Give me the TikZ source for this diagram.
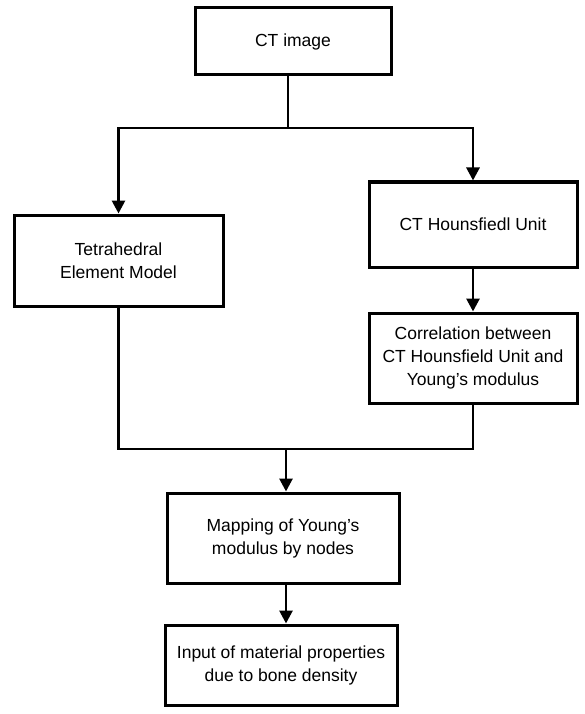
\documentclass[tikz,border=0pt]{standalone}
\usepackage{fontspec}
\setmainfont{Liberation Sans}
\usetikzlibrary{arrows.meta}
\begin{document}
\begin{tikzpicture}[x=1pt,y=-1pt,
  box/.style={draw, line width=3pt, align=center, inner sep=0pt, font=\fontsize{17.5}{23}\selectfont},
  conn/.style={line width=2.8pt},
  arr/.style={conn, -{Triangle[length=13pt,width=13pt]}}]
\useasboundingbox (0,0) rectangle (585,714);
\node[box, minimum width=196pt, minimum height=67pt] (ct) at (293,41.5) {CT image};
\node[box, minimum width=209pt, minimum height=91pt] (tet) at (118.5,260.5) {Tetrahedral\\Element Model};
\node[box, minimum width=208pt, minimum height=85pt] (hu) at (473,224.5) {CT Hounsfiedl Unit};
\node[box, minimum width=208pt, minimum height=90pt] (corr) at (473,358) {Correlation between\\CT Hounsfield Unit and\\Young's modulus};
\node[box, minimum width=232pt, minimum height=90pt] (map) at (283,538) {Mapping of Young's\\modulus by nodes};
\node[box, minimum width=232pt, minimum height=80pt] (inp) at (281,665) {Input of material properties\\due to bone density};
\coordinate (j1) at (288,128);
\coordinate (j2) at (286,449);
\draw[conn] (ct.south -| j1) -- (j1);
\draw[arr] (j1) -| (tet.north);
\draw[arr] (j1) -| (hu.north);
\draw[arr] (hu.south) -- (corr.north);
\draw[conn] (tet.south) |- (j2) -| (corr.south);
\draw[arr] (j2) -- (j2 |- map.north);
\draw[arr] (map.south -| j2) -- (inp.north -| j2);
\end{tikzpicture}
\end{document}
